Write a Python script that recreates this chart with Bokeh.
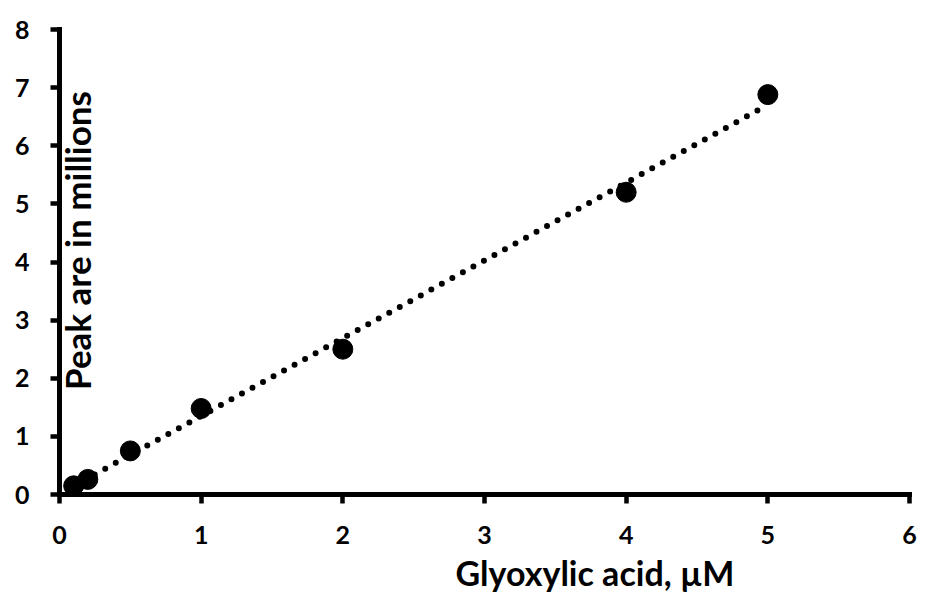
import numpy as np
from math import pi
from bokeh.plotting import figure
from bokeh.models import Range1d, FixedTicker, Label, Title
from bokeh.embed import file_html
from bokeh.resources import INLINE

conc = [0.1, 0.2, 0.5, 1.0, 2.0, 4.0, 5.0]
peak_area = [0.15, 0.26, 0.75, 1.48, 2.50, 5.20, 6.88]
x_ticks = [0, 1, 2, 3, 4, 5, 6]
y_ticks = [0, 1, 2, 3, 4, 5, 6, 7, 8]
x_title = "Glyoxylic acid, µM"
y_title = "Peak are in millions"

FONT = "Lato"

p = figure(width=932, height=601, output_backend="svg", toolbar_location=None,
           x_range=Range1d(0, 6), y_range=Range1d(0, 8),
           min_border_left=59, min_border_right=23, min_border_top=29, min_border_bottom=107)
p.outline_line_color = None
p.xgrid[0].visible = False
p.ygrid[0].visible = False

for ax in (p.xaxis[0], p.yaxis[0]):
    ax.axis_line_width = 5
    ax.axis_line_color = "black"
    ax.axis_line_cap = "square"
    ax.major_tick_line_width = 4.5
    ax.major_tick_line_color = "black"
    ax.major_tick_in = 0
    ax.major_tick_out = 9
    ax.minor_tick_line_color = None
    ax.major_label_text_font = FONT
    ax.major_label_text_font_style = "bold"
    ax.major_label_text_font_size = "25px"
    ax.major_label_text_color = "black"

p.xaxis[0].ticker = FixedTicker(ticks=x_ticks)
p.yaxis[0].ticker = FixedTicker(ticks=y_ticks)
p.xaxis[0].major_label_standoff = 22
p.yaxis[0].major_label_standoff = 21

# linear trendline over data range
slope, intercept = np.polyfit(conc, peak_area, 1)
tx = [min(conc), max(conc)]
ty = [slope * v + intercept for v in tx]
p.line(tx, ty, line_color="black", line_width=6, line_dash="0 12", line_cap="round")

p.scatter(conc, peak_area, size=20, marker="circle", fill_color="black", line_color="black")

p.add_layout(Title(text=x_title, align="left", offset=396, standoff=7,
                   text_font=FONT, text_font_style="bold", text_font_size="34px",
                   text_color="black"), "below")
p.add_layout(Label(x=0.125, y=4.37, text=y_title, text_font=FONT, text_font_style="bold",
                   text_font_size="35px", text_align="center", text_baseline="alphabetic",
                   angle=pi / 2, text_color="black"))

open("out.html", "w").write(file_html(p, INLINE))
